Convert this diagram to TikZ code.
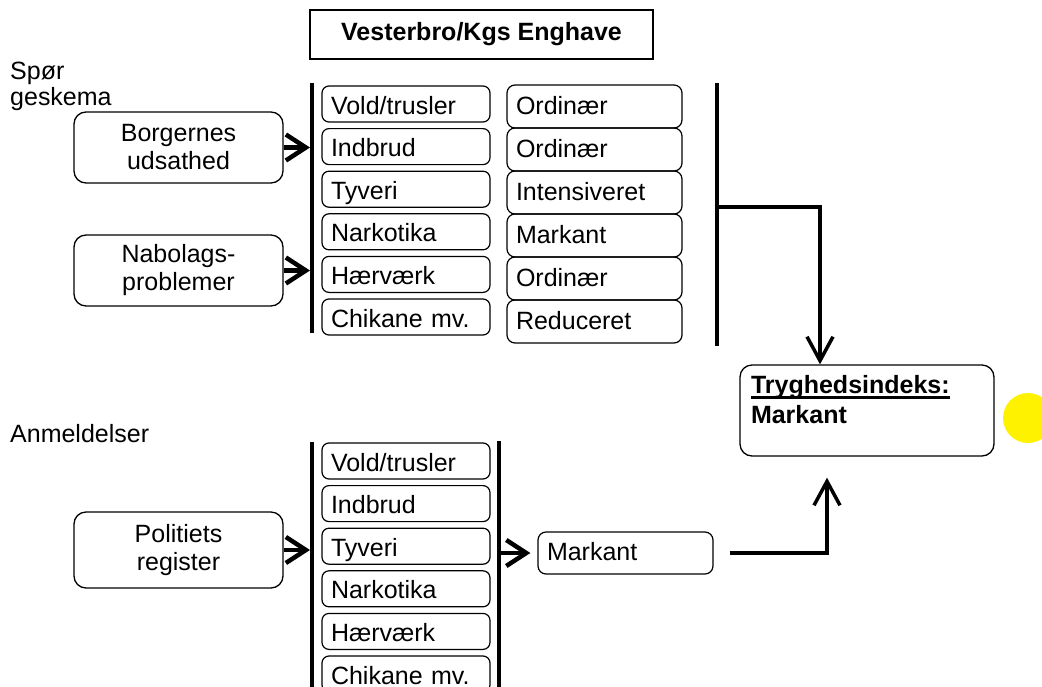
\documentclass[tikz,border=0pt]{standalone}
\usepackage{fontspec}
\setmainfont{Liberation Sans}
\usetikzlibrary{arrows.meta}
\newcommand{\trygline}[1]{\leavevmode\setbox0=\hbox{#1}\rlap{\rule[-5pt]{\wd0}{2.2pt}}\box0}

\begin{document}
\begin{tikzpicture}[x=1pt, y=-1pt,
  every node/.style={font=\fontsize{25}{28}\selectfont},
  srcbox/.style={draw, rounded corners=12pt, line width=1.3pt, minimum width=209pt, minimum height=71pt, align=center},
  rowbox/.style={draw, rounded corners=7pt, line width=1.2pt, text width=150pt, inner xsep=9pt, minimum height=36pt, text height=23pt, text depth=3pt, align=left},
  levelbox/.style={draw, rounded corners=8pt, line width=1.2pt, text width=157pt, inner xsep=9pt, minimum height=43pt, text height=19pt, text depth=4pt, align=left},
  bar/.style={line width=4.5pt},
  feed/.style={line width=4.5pt, -{Straight Barb[length=20pt, width=26pt]}},
  flow/.style={line width=3.5pt, -{Straight Barb[length=24pt, width=26pt]}}]
\useasboundingbox (0,0) rectangle (1042,686);
\node[draw, line width=1.3pt, minimum width=343pt, minimum height=49pt, font=\bfseries\fontsize{25}{28}\selectfont] (area) at (481.5,34.5) {Vesterbro/Kgs Enghave};
\node[anchor=north west, inner sep=0pt, align=left, font=\fontsize{25}{26}\selectfont] (survey) at (10,62) {Spør\\geskema};
\node[anchor=base west, inner sep=0pt] (reports) at (10,442) {Anmeldelser};
\node[srcbox] (borg) at (178.5,147.5) {Borgernes\\udsathed};
\node[srcbox] (nabo) at (178.5,270.5) {Nabolags-\\problemer};
\node[srcbox, minimum height=76pt] (poli) at (178.5,550) {Politiets\\register};
% survey rows
\node[rowbox] (q1) at (406,104) {Vold/trusler};
\node[rowbox] (q2) at (406,146.6) {Indbrud};
\node[rowbox] (q3) at (406,189.2) {Tyveri};
\node[rowbox] (q4) at (406,231.8) {Narkotika};
\node[rowbox] (q5) at (406,274.4) {Hærværk};
\node[rowbox] (q6) at (406,317) {Chikane mv.};
\node[levelbox] (l1) at (594.5,106.5) {Ordinær};
\node[levelbox] (l2) at (594.5,149.5) {Ordinær};
\node[levelbox] (l3) at (594.5,192.5) {Intensiveret};
\node[levelbox] (l4) at (594.5,235.5) {Markant};
\node[levelbox] (l5) at (594.5,278.5) {Ordinær};
\node[levelbox] (l6) at (594.5,321.5) {Reduceret};
% police rows
\node[rowbox] (p1) at (406,461) {Vold/trusler};
\node[rowbox] (p2) at (406,503.6) {Indbrud};
\node[rowbox] (p3) at (406,546.2) {Tyveri};
\node[rowbox] (p4) at (406,588.8) {Narkotika};
\node[rowbox] (p5) at (406,631.4) {Hærværk};
\node[rowbox] (p6) at (406,674) {Chikane mv.};
\node[levelbox, minimum height=42pt] (markb) at (625.5,553) {Markant};
\node[draw, rounded corners=12pt, line width=1.3pt, inner xsep=11pt, inner ysep=10.5pt, font=\bfseries\fontsize{25}{30}\selectfont] (tryg) at (867,410.5) {\parbox[t][70pt][t]{232pt}{\trygline{Tryghedsindeks:}\\Markant}};
\fill[yellow] (1028,418) circle (25pt);
% bars
\coordinate (qbartop) at (312,83);
\coordinate (qbarbot) at (312,333);
\coordinate (rbartop) at (717,83);
\coordinate (rbarbot) at (717,346);
\coordinate (pbartop) at (312,442);
\coordinate (pbarbot) at (312,690);
\coordinate (sbartop) at (499,441);
\coordinate (sbarbot) at (499,690);
\draw[bar] (qbartop) -- (qbarbot);
\draw[bar] (rbartop) -- (rbarbot);
\draw[bar] (pbartop) -- (pbarbot);
\draw[bar] (sbartop) -- (sbarbot);
% arrows
\coordinate (qin1) at (310,147.5);
\coordinate (qin2) at (310,270.5);
\coordinate (pin) at (310,550);
\coordinate (pout) at (501,553);
\coordinate (rjoin) at (717,207);
\draw[feed] (borg) -- (qin1);
\draw[feed] (nabo) -- (qin2);
\draw[feed] (poli) -- (pin);
\draw[feed, shorten >=7pt] (pout) -- (markb);
\draw[flow] (rjoin) -| ([xshift=-47pt]tryg.north);
\draw[flow, shorten <=16pt, shorten >=21pt] (markb) -| ([xshift=-40pt]tryg.south);
\end{tikzpicture}
\end{document}
